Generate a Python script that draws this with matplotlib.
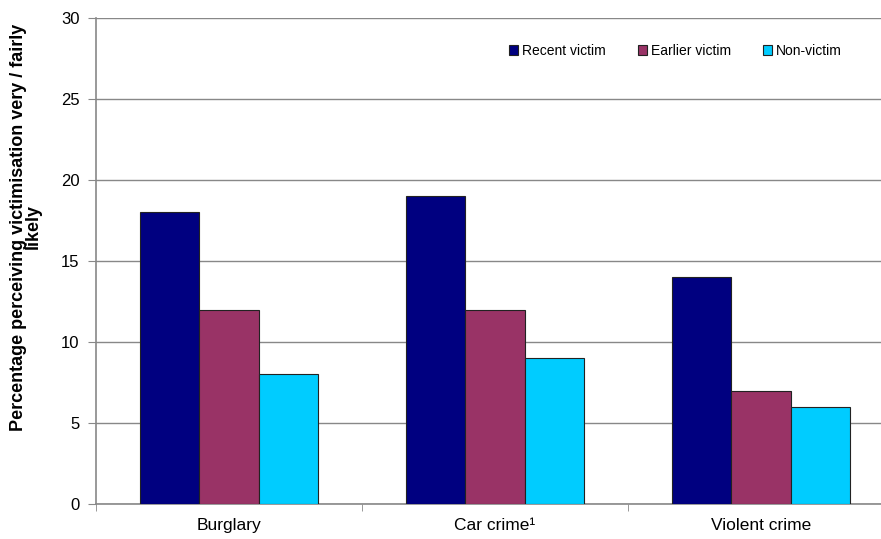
import matplotlib
matplotlib.use("Agg")
import matplotlib.pyplot as plt
import numpy as np
from matplotlib.patches import Patch

plt.rcParams['font.family'] = ['Liberation Sans', 'DejaVu Sans']

categories = ["Burglary", "Car crime\u00b9", "Violent crime"]
series_names = ["Recent victim", "Earlier victim", "Non-victim"]
recent = [18, 19, 14]
earlier = [12, 12, 7]
nonvictim = [8, 9, 6]
colors = ["#000080", "#993366", "#00CCFF"]

fig = plt.figure(figsize=(8.81, 5.39), dpi=100)
ax = fig.add_axes([96/881, (539-504)/539, (894-96)/881, (504-18)/539])

x = np.arange(len(categories))
w = 0.222
for i, (vals, c) in enumerate(zip([recent, earlier, nonvictim], colors)):
    ax.bar(x + (i - 1) * w, vals, width=w, color=c, edgecolor="#222222", linewidth=0.8, zorder=3)

ax.set_xlim(-0.5, 2.5)
ax.set_ylim(0, 30)
ax.set_yticks(range(0, 31, 5))
ax.yaxis.grid(True, color="#888888", linewidth=1.0, zorder=0)
ax.set_xticks(x)
ax.set_xticklabels(categories, fontsize=12.5)
ax.set_xticks([-0.5, 0.5, 1.5, 2.5], minor=True)
ax.tick_params(axis="x", which="major", length=0, pad=10)
ax.tick_params(axis="x", which="minor", length=5, color="#888888")
ax.tick_params(axis="y", length=6, color="#888888", labelsize=12, pad=6)
for s in ["top", "right"]:
    ax.spines[s].set_visible(False)
for s in ["left", "bottom"]:
    ax.spines[s].set_color("#888888")
    ax.spines[s].set_linewidth(1.2)

ax.set_ylabel("Percentage perceiving victimisation very / fairly\nlikely",
              fontsize=13, fontweight="bold", linespacing=0.85)
ax.yaxis.set_label_coords(-0.068, 0.57)

handles = [Patch(facecolor=c, edgecolor="#222222", linewidth=0.8) for c in colors]
fig.legend(handles, series_names, loc="center left", bbox_to_anchor=(509/881, 1 - 51/539),
           ncol=3, frameon=False, fontsize=10, handlelength=0.65, handleheight=0.65,
           handletextpad=0.3, columnspacing=2.3, borderpad=0, borderaxespad=0)

fig.savefig("out.png", dpi=100)
